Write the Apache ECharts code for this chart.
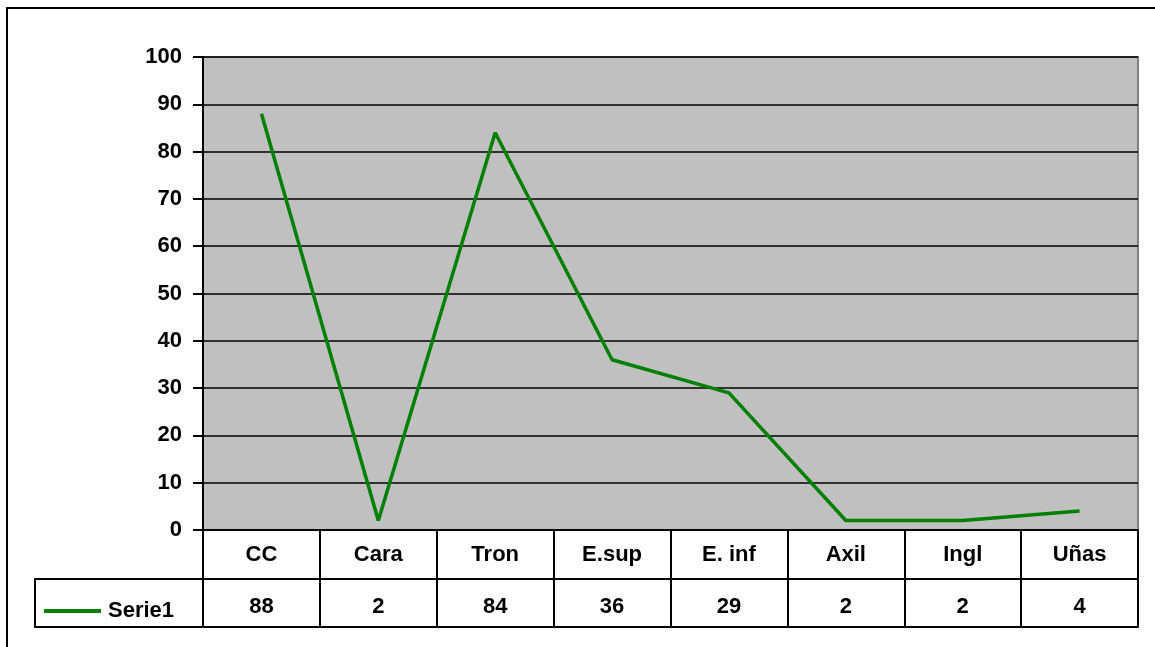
<!DOCTYPE html>
<html><head><meta charset="utf-8">
<script src="https://cdn.jsdelivr.net/npm/echarts@6/dist/echarts.min.js"></script>
<style>html,body{margin:0;padding:0;background:#fff}#c{width:1155px;height:647px}</style>
</head><body><div id="c"></div>
<script>
const categories = ['CC','Cara','Tron','E.sup','E. inf','Axil','Ingl','Uñas'];
const serie1 = [88, 2, 84, 36, 29, 2, 2, 4];
const seriesName = 'Serie1';
const yTicks = [0,10,20,30,40,50,60,70,80,90,100];

const FONT = '"Liberation Sans", Arial, sans-serif';
const chart = echarts.init(document.getElementById('c'), null, {renderer:'canvas'});
chart.setOption({
  animation:false,
  backgroundColor:'#fff',
  grid:{left:203, top:57, width:935, height:473, show:true, backgroundColor:'#c0c0c0', borderColor:'#808080', borderWidth:2},
  legend:{left:39, top:595, itemWidth:57, itemHeight:14, itemGap:8,
    textStyle:{fontFamily:FONT, fontWeight:'bold', fontSize:22, color:'#000', padding:[0,0,0,2]},
    data:[{name:seriesName, icon:'path://M0,0L57,0L57,4L0,4Z'}]},
  xAxis:[
    {type:'category', data:categories, position:'bottom', boundaryGap:true,
     axisLine:{show:true, lineStyle:{color:'#000', width:2}},
     axisTick:{show:true, inside:false, length:97, alignWithLabel:false, lineStyle:{color:'#000', width:2}},
     axisLabel:{margin:13, fontFamily:FONT, fontWeight:'bold', fontSize:22, lineHeight:24, color:'#000'},
     splitLine:{show:false}},
    {type:'category', data:serie1.map(String), position:'bottom', offset:49, boundaryGap:true,
     axisLine:{show:true, lineStyle:{color:'#000', width:2}},
     axisTick:{show:false},
     axisLabel:{margin:16, fontFamily:FONT, fontWeight:'bold', fontSize:22, lineHeight:24, color:'#000'}},
    {type:'category', data:categories, position:'bottom', offset:97, boundaryGap:true,
     axisLine:{show:true, lineStyle:{color:'#000', width:2}},
     axisTick:{show:false}, axisLabel:{show:false}}
  ],
  yAxis:{type:'value', min:yTicks[0], max:yTicks[yTicks.length-1], interval:10,
    axisLine:{show:true, lineStyle:{color:'#000', width:2}},
    axisTick:{show:true, inside:false, length:10, lineStyle:{color:'#000', width:2}},
    axisLabel:{margin:21, fontFamily:FONT, fontWeight:'bold', fontSize:22, color:'#000'},
    splitLine:{show:true, lineStyle:{color:'#000', width:1.5}}},
  series:[{name:seriesName, type:'line', xAxisIndex:0, data:serie1, symbol:'none',
    lineStyle:{color:'#008000', width:3.5}, itemStyle:{color:'#008000'}}],
  graphic:[
    {type:'rect', shape:{x:7, y:8, width:1200, height:700}, style:{fill:'none', stroke:'#000', lineWidth:2}, silent:true},
    {type:'polyline', shape:{points:[[203,579],[35,579],[35,627],[203,627]]}, style:{fill:'none', stroke:'#000', lineWidth:2}, silent:true}
  ]
});
</script></body></html>
